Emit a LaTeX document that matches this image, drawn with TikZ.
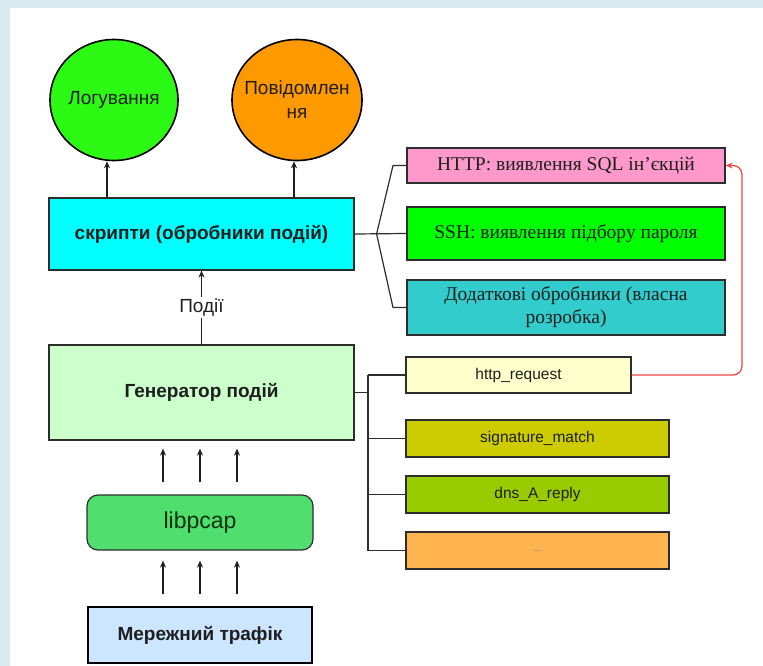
\documentclass[tikz,border=0pt]{standalone}
\usepackage{fontspec}
\setmainfont{Liberation Serif}
\setsansfont{Liberation Sans}
\usetikzlibrary{arrows.meta,shapes.geometric,calc}
\definecolor{bgblue}{RGB}{216,234,240}
\definecolor{boxline}{RGB}{45,45,45}
\definecolor{txt}{RGB}{30,30,30}
\definecolor{cLog}{RGB}{45,250,20}
\definecolor{cPov}{RGB}{255,153,0}
\definecolor{cScr}{RGB}{0,255,255}
\definecolor{cGen}{RGB}{204,255,204}
\definecolor{cLib}{RGB}{80,222,110}
\definecolor{cLibT}{RGB}{10,50,10}
\definecolor{cTraf}{RGB}{204,230,255}
\definecolor{cHttp}{RGB}{255,153,204}
\definecolor{cSsh}{RGB}{0,255,0}
\definecolor{cDod}{RGB}{51,204,204}
\definecolor{cReq}{RGB}{255,255,204}
\definecolor{cSig}{RGB}{204,204,0}
\definecolor{cDns}{RGB}{153,204,0}
\definecolor{cDots}{RGB}{255,180,80}
\definecolor{redline}{RGB}{240,70,70}
\tikzset{
  box/.style={draw=boxline, line width=1.2pt, rectangle, align=center, inner sep=0pt, text=txt},
  bubble/.style={draw=black, line width=1.6pt, ellipse, align=center, inner sep=0pt, text=txt, font=\sffamily\fontsize{19}{24}\selectfont},
  sansb/.style={font=\sffamily\bfseries\fontsize{19}{22}\selectfont},
  serifbox/.style={font=\rmfamily\fontsize{19.5}{23}\selectfont},
  smallsans/.style={font=\sffamily\fontsize{15.5}{18}\selectfont},
  arr/.style={draw=txt, line width=1.3pt, -{Stealth[length=7pt,width=6pt]}},
  conn/.style={draw=boxline, line width=1.2pt},
  redarr/.style={draw=redline, line width=1.3pt, rounded corners=9pt, -{Stealth[length=7pt,width=6pt]}}
}
\begin{document}
\begin{tikzpicture}[x=1pt,y=-1pt]
\useasboundingbox (0,0) rectangle (763,666);
\fill[bgblue] (0,0) rectangle (763,666);
\fill[white] (10,8) rectangle (763,666);

% left column
\node[bubble, fill=cLog, minimum width=128pt, minimum height=121pt] (log) at (114,100) {\makebox[0pt]{Логування}};
\node[bubble, fill=cPov, minimum width=130pt, minimum height=121pt] (pov) at (297,100) {\makebox[0pt]{Повідомлен}\\\makebox[0pt]{ня}};
\node[box, sansb, fill=cScr, minimum width=305pt, minimum height=72pt] (scr) at (201.5,234) {скрипти (обробники подій)};
\node[box, sansb, fill=cGen, minimum width=305pt, minimum height=95pt] (gen) at (201.5,392.5) {Генератор подій};
\node[box, fill=cLib, rounded corners=11pt, text=cLibT, font=\sffamily\fontsize{23}{26}\selectfont, minimum width=226pt, minimum height=55pt] (lib) at (200,522.5) {libpcap};
\node[box, sansb, draw=black, line width=1.8pt, fill=cTraf, minimum width=224pt, minimum height=56pt] (traf) at (200,635) {Мережний трафік};

% right column (handlers)
\node[box, serifbox, fill=cHttp, minimum width=318pt, minimum height=35pt] (http) at (566,165.5) {HTTP: виявлення SQL ін’єкцій};
\node[box, serifbox, fill=cSsh, minimum width=318pt, minimum height=53pt] (ssh) at (566,233.5) {SSH: виявлення підбору пароля};
\node[box, serifbox, fill=cDod, minimum width=318pt, minimum height=55pt] (dod) at (566,307.5) {Додаткові обробники (власна\\розробка)};

% right column (events)
\node[box, smallsans, fill=cReq, minimum width=225pt, minimum height=36pt] (req) at (518.5,375) {http\_request};
\node[box, smallsans, fill=cSig, minimum width=263pt, minimum height=37pt] (sig) at (537.5,438.5) {signature\_match};
\node[box, smallsans, fill=cDns, minimum width=263pt, minimum height=37pt] (dns) at (537.5,494.5) {dns\_A\_reply};
\node[box, font=\sffamily\fontsize{11}{13}\selectfont, text=gray, fill=cDots, minimum width=263pt, minimum height=37pt] (dots) at (537.5,550.5) {...};

% arrows to bubbles
\coordinate (la) at ([xshift=-7pt]log.south);
\coordinate (pa) at ([xshift=-3pt]pov.south);
\draw[arr] (la |- scr.north) -- (la);
\draw[arr] (pa |- scr.north) -- (pa);

% events arrow
\draw[arr] (gen.north) -- node[fill=white, inner sep=2pt, text=txt, font=\sffamily\fontsize{19}{22}\selectfont] (ev) {Події} (scr.south);

% libpcap -> generator, traffic -> libpcap
\foreach \dx in {-37,0,37} {
  \draw[arr, shorten <=12pt, shorten >=8pt] ([xshift=\dx pt]lib.north) -- ([xshift=\dx pt]lib.north |- gen.south);
  \draw[arr, shorten <=12pt, shorten >=10pt] ([xshift=\dx pt]traf.north) -- ([xshift=\dx pt]traf.north |- lib.south);
}

% scripts bracket
\coordinate (sb) at ([xshift=22pt]scr.east);
\coordinate (bx) at (393,0);
\draw[conn] (scr.east) -- (ssh.west);
\draw[conn] (sb) -- (http.west -| bx) -- (http.west);
\draw[conn] (sb) -- (dod.west -| bx) -- (dod.west);

% generator bracket
\coordinate (vx) at (368,0);
\draw[conn] (gen.east) -- (gen.east -| vx);
\draw[conn] (req.west -| vx) -- (dots.west -| vx);
\draw[conn] (req.west -| vx) -- (req.west);
\draw[conn] (sig.west -| vx) -- (sig.west);
\draw[conn] (dns.west -| vx) -- (dns.west);
\draw[conn] (dots.west -| vx) -- (dots.west);

% red connector
\coordinate (rx) at (742,0);
\draw[redarr] (req.east) -- (req.east -| rx) -- (http.east -| rx) -- (http.east);
\end{tikzpicture}
\end{document}
